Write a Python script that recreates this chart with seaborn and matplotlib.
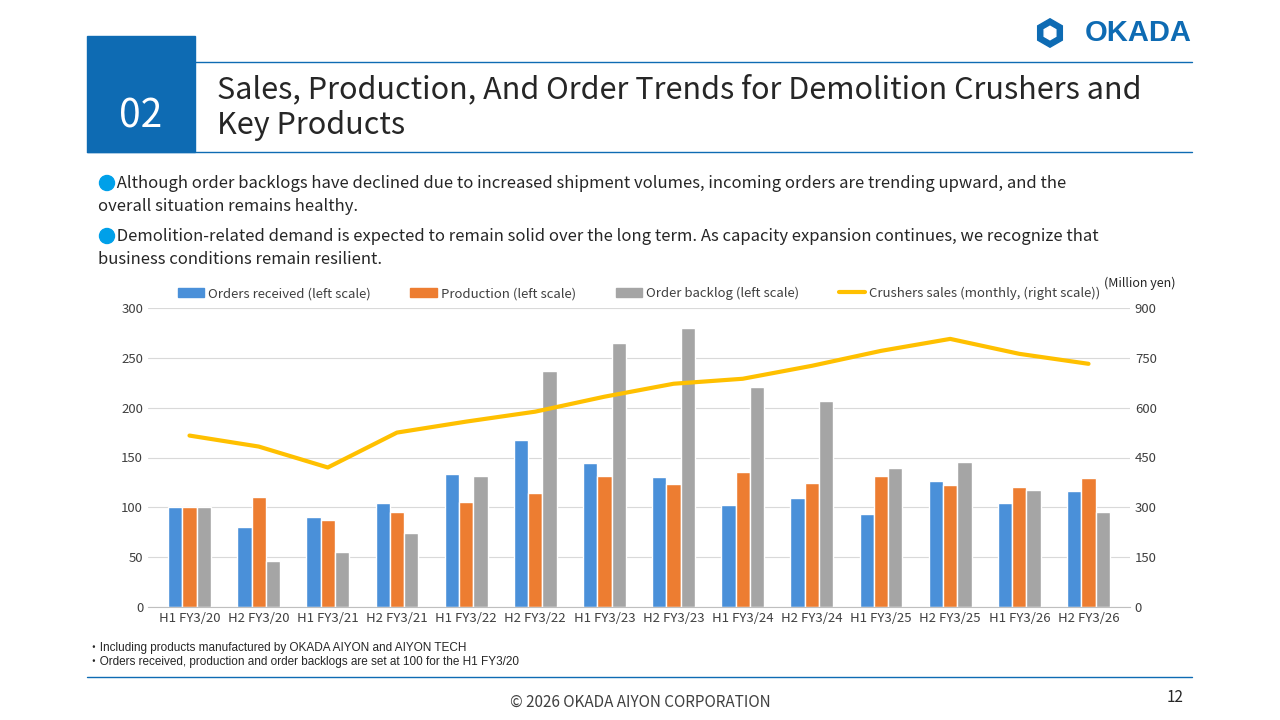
import matplotlib.pyplot as plt
import seaborn as sns
import pandas as pd
import numpy as np
from matplotlib.patches import Rectangle, RegularPolygon, Ellipse, Patch
from matplotlib.lines import Line2D

periods = ['H1 FY3/20', 'H2 FY3/20', 'H1 FY3/21', 'H2 FY3/21', 'H1 FY3/22', 'H2 FY3/22', 'H1 FY3/23',
           'H2 FY3/23', 'H1 FY3/24', 'H2 FY3/24', 'H1 FY3/25', 'H2 FY3/25', 'H1 FY3/26', 'H2 FY3/26']
orders = [100, 80, 90, 104, 133, 168, 144, 130, 102, 109, 93, 126, 104, 116]
production = [100, 110, 87, 95, 105, 114, 131, 123, 135, 124, 131, 122, 120, 129]
backlog = [100, 46, 55, 74, 131, 237, 265, 280, 221, 207, 139, 145, 117, 95]
sales = [516, 483, 420, 525, 558, 588, 633, 672, 687, 726, 771, 807, 762, 732]

series = ['Orders received (left scale)', 'Production (left scale)', 'Order backlog (left scale)']
df = pd.DataFrame({'Period': periods * 3,
                   'Value': orders + production + backlog,
                   'Series': sum([[s] * len(periods) for s in series], [])})

sns.set_style('white')
plt.rcParams['font.family'] = ['Noto Sans CJK JP', 'DejaVu Sans']

fig = plt.figure(figsize=(12.8, 7.2), dpi=100)

# header
fig.patches.append(Rectangle((87 / 1280, 1 - 152 / 720), 108 / 1280, 116 / 720, transform=fig.transFigure,
                             color='#0E6BB3', zorder=0))
fig.text(141 / 1280, 1 - 116 / 720, '02', color='white', fontsize=28, ha='center', va='center')
fig.add_artist(plt.Line2D([195 / 1280, 1192 / 1280], [1 - 62 / 720] * 2, color='#0E6BB3', lw=1))
fig.add_artist(plt.Line2D([87 / 1280, 1192 / 1280], [1 - 152 / 720] * 2, color='#0E6BB3', lw=1))
fig.text(217 / 1280, 1 - 108 / 720, 'Sales, Production, And Order Trends for Demolition Crushers and\nKey Products',
         fontsize=22, va='center', linespacing=1.2)
fig.text(1192 / 1280, 1 - 33 / 720, 'OKADA', color='#0E6BB3', fontsize=21, fontweight='bold', ha='right',
         va='center', family=['Liberation Sans', 'DejaVu Sans'])
lax = fig.add_axes([1035 / 1280, 1 - 48 / 720, 30 / 1280, 30 / 720])
lax.set_xlim(-1, 1); lax.set_ylim(-1, 1); lax.axis('off')
lax.add_patch(RegularPolygon((0, 0), 6, radius=0.95, color='#0E6BB3'))
lax.add_patch(RegularPolygon((0, 0), 6, radius=0.45, color='white'))

bullets = [(183, 'Although order backlogs have declined due to increased shipment volumes, incoming orders are trending upward, and the\noverall situation remains healthy.'),
           (236, 'Demolition-related demand is expected to remain solid over the long term. As capacity expansion continues, we recognize that\nbusiness conditions remain resilient.')]
for y, t in bullets:
    fig.text(98 / 1280, 1 - (y + 12) / 720, '     ' + t, fontsize=12, va='center', linespacing=1.45)
    fig.add_artist(Ellipse((107 / 1280, 1 - y / 720), 15 / 1280, 15 / 720, transform=fig.transFigure,
                           color='#00A0E9'))

ax = fig.add_axes([148 / 1280, 1 - 607 / 720, 982 / 1280, 299 / 720])
sns.barplot(data=df, x='Period', y='Value', hue='Series', ax=ax, width=0.62,
            palette=['#4A90D9', '#ED7D31', '#A5A5A5'], saturation=1, legend=False)
ax.set_ylim(0, 300)
ax.set_yticks(range(0, 301, 50))
ax.yaxis.grid(True, color='#D9D9D9', lw=0.8)
ax.set_axisbelow(True)
ax.set_xlabel('')
ax.set_ylabel('')
for s in ['top', 'right', 'left']:
    ax.spines[s].set_visible(False)
ax.spines['bottom'].set_color('#BFBFBF')
ax.tick_params(labelsize=9.5, colors='#404040', length=0)

ax2 = ax.twinx()
ax2.plot(np.arange(len(periods)), sales, color='#FFC000', lw=3)
ax2.set_ylim(0, 900)
ax2.set_yticks(range(0, 901, 150))
for s in ax2.spines.values():
    s.set_visible(False)
ax2.tick_params(labelsize=9.5, colors='#404040', length=0)
ax.set_xlim(-0.6, len(periods) - 0.4)

handles = [Patch(color=c) for c in ['#4A90D9', '#ED7D31', '#A5A5A5']] + [Line2D([], [], color='#FFC000', lw=3)]
ax.legend(handles, series + ['Crushers sales (monthly, (right scale))'], ncol=4, loc='lower center',
          bbox_to_anchor=(0.5, 1.0), frameon=False, fontsize=9.5, handlelength=2, columnspacing=3,
          labelcolor='#404040', borderaxespad=0.2, handletextpad=0.3)
fig.text(1176 / 1280, 1 - 283 / 720, '(Million yen)', fontsize=9, ha='right', va='center')

foot = dict(fontsize=8.5, va='center', family=['Liberation Sans', 'Noto Sans CJK JP', 'DejaVu Sans'])
fig.text(88 / 1280, 1 - 648 / 720, '・Including products manufactured by OKADA AIYON and AIYON TECH', **foot)
fig.text(88 / 1280, 1 - 662 / 720, '・Orders received, production and order backlogs are set at 100 for the H1 FY3/20', **foot)
fig.add_artist(plt.Line2D([87 / 1280, 1192 / 1280], [1 - 677 / 720] * 2, color='#0E6BB3', lw=1))
fig.text(640 / 1280, 1 - 702 / 720, '© 2026 OKADA AIYON CORPORATION', fontsize=11, ha='center', va='center', color='#404040')
fig.text(1183 / 1280, 1 - 697 / 720, '12', fontsize=11, ha='right', va='center')

fig.savefig('out.png', dpi=100)
